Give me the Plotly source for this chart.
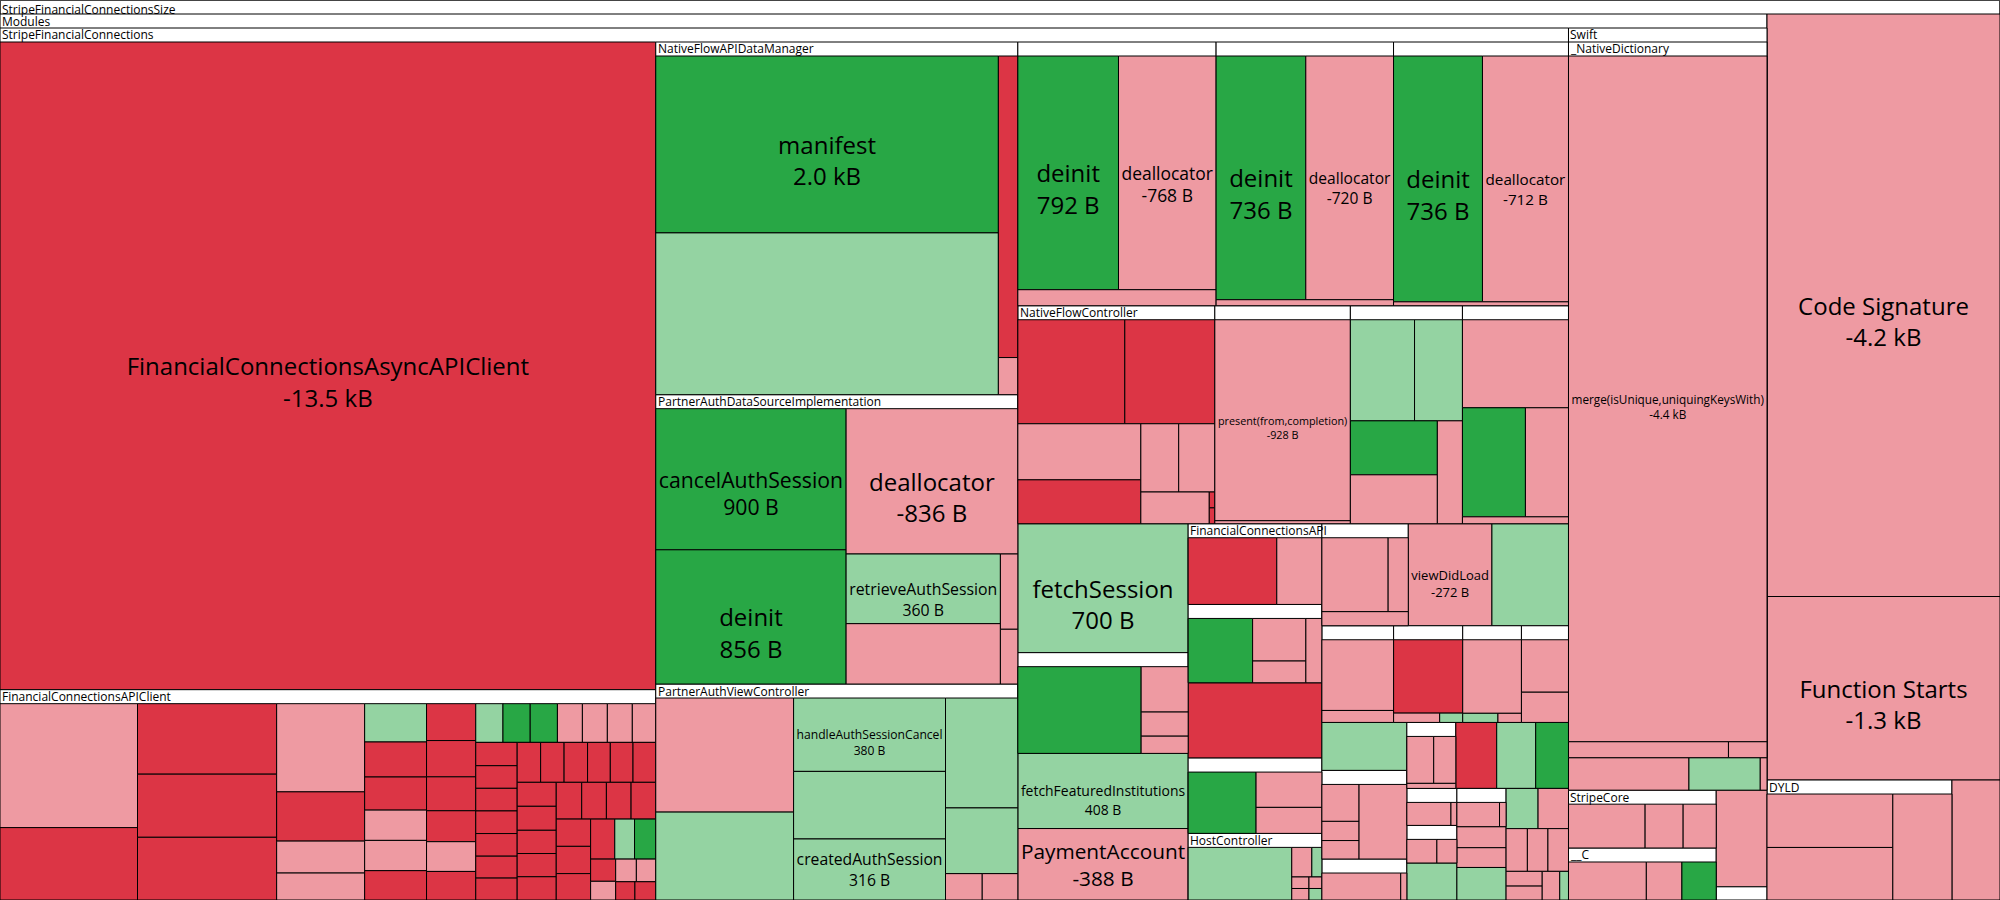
import plotly.graph_objects as go

# Size change of each symbol, in bytes (negative = smaller than before).
# A string in an item list names a sub-group (listed further down).
# Kind letters, one per numeric item: r removed, d decreased, a added, i increased.

root_items = ["modules", -4190, -1320, "dyld", -178]
root_kinds = "ddd"
root_names = {1: "Code Signature", 2: "Function Starts"}

dyld_items = [-235, -231, -219]
dyld_kinds = "ddd"

modules_items = ["sfc", "swift", "stripecore", "c", -154, "m_small"]
modules_kinds = "d"

m_small_items = [-21]
m_small_kinds = "d"

swift_items = ["native_dict", -125, 74, -7]
swift_kinds = "did"

native_dict_items = [-4437, -83, -20]
native_dict_kinds = "ddd"
native_dict_names = {0: "merge(isUnique,uniquingKeysWith)"}

stripecore_items = [-139, -69, -60]
stripecore_kinds = "ddd"

c_items = [-127, -58, 56]
c_kinds = "dda"

sfc_items = [-13540, "api_client", "nfadm", "padsi", "pavc", "g1", "g2", "g3",
             "nfc", "b1", "b2", "b3", 700, "gx", 408, -388, "fcapi", "gy", -321,
             "gw", "hc", "gv", -272, 249, "r2g1", "r2g2", "r2g3", "r2g4", 130,
             "q", "q2", "s", -86, 82, 69, "u1", "u2", 59, "u3", -33, -31, 51, 41,
             -39, -29, -28, -28, -17, -16, -16, 8]
sfc_kinds = "riidrdiiriaiddiidddddddi"
sfc_names = {0: "FinancialConnectionsAsyncAPIClient", 12: "fetchSession",
             14: "fetchFeaturedInstitutions", 15: "PaymentAccount", 22: "viewDidLoad"}

api_client_items = [-582, -340, -335, -300, -298, -265, -148, -96, -81,
                    81, -74, -70, -64, -64, -62,
                    -62, -61, -57, -52, -50, -48,
                    36, 36, 36, -33, -33, -33, -31,
                    -33, -32, -32, -32, -32, -31, -31,
                    -32, -32, -32, -31, -31, -31,
                    -32, -32, -31, -31, -31,
                    -32, -31, -31, -31,
                    -32, -32, -31,
                    -33, 27, 29, -19, -16, -16, -15, -12, -13]
api_client_kinds = ("drrrrdrdd" + "irrddr" + "rrrrdr" + "iaadddd"
                    + "rrrrrrr" + "rrrrrr" + "rrrrr" + "rrrr" + "rrr"
                    + "ria" + "rdddrr")

nfadm_items = [2012, 1840, -195, -24]
nfadm_kinds = "aird"
nfadm_names = {0: "manifest"}

padsi_items = [900, 856, -836, 360, -312, -44, -32]
padsi_kinds = "aadiddd"
padsi_names = {0: "cancelAuthSession", 1: "deinit", 2: "deallocator", 3: "retrieveAuthSession"}

pavc_items = [-536, 413, 380, 350, 316, 271, 162, -33, -32]
pavc_kinds = "diiiiiidd"
pavc_names = {2: "handleAuthSessionCancel", 4: "createdAuthSession"}

g1_items = [792, -768, -107]
g2_items = [736, -720, -36]
g3_items = [736, -712, -23]
deinit_kinds = "add"
deinit_names = {0: "deinit", 1: "deallocator"}

nfc_items = [-379, -319, -235, -184, -88, -84, -74, -3, -3]
nfc_kinds = "rrdrdddrr"

b1_items = [-928, -14]
b1_kinds = "dd"
b1_names = {0: "present(from,completion)"}

b2_items = [221, 165, 160, -145, -88]
b2_kinds = "iiadd"

b3_items = [-318, 234, -160, -25]
b3_kinds = "dadd"

gx_items = [396, -79, -42, -30]
gx_kinds = "addd"

fcapi_items = [-228, -116]
fcapi_kinds = "rd"

gy_items = [161, -88, -45, -40]
gy_kinds = "addd"

gw_items = [163, -91, -67]
gw_kinds = "add"

hc_items = [220, -24, 12, -8, -8, -6, 6]
hc_kinds = "ididddi"

gv_items = [-181, -55, -45]
gv_kinds = "ddd"

r2g1_items = [-189, -32]
r2g1_kinds = "dd"
r2g2_items = [-189, -16, 8]
r2g2_kinds = "rdi"
r2g3_items = [-161, 12, -8]
r2g3_kinds = "did"
r2g4_items = [-92, -53]
r2g4_kinds = "dd"

q_items = [-52, -27, -26, -135]
q_kinds = "dddd"
q2_items = [-103, -8]
q2_kinds = "dd"
s_items = [-51, -42, -10]
s_kinds = "ddd"
u1_items = [-52, -7]
u2_items = [-36, -24]
u3_items = [-52, -8]
pair_kinds = "dd"

group_labels = {
    "root": "StripeFinancialConnectionsSize",
    "modules": "Modules",
    "sfc": "StripeFinancialConnections",
    "swift": "Swift",
    "native_dict": "_NativeDictionary",
    "stripecore": "StripeCore",
    "c": "__C",
    "dyld": "DYLD",
    "api_client": "FinancialConnectionsAPIClient",
    "nfadm": "NativeFlowAPIDataManager",
    "padsi": "PartnerAuthDataSourceImplementation",
    "pavc": "PartnerAuthViewController",
    "nfc": "NativeFlowController",
    "fcapi": "FinancialConnectionsAPI",
    "hc": "HostController",
}

groups = {
    "root": (root_items, root_kinds, root_names),
    "dyld": (dyld_items, dyld_kinds, {}),
    "modules": (modules_items, modules_kinds, {}),
    "m_small": (m_small_items, m_small_kinds, {}),
    "swift": (swift_items, swift_kinds, {}),
    "native_dict": (native_dict_items, native_dict_kinds, native_dict_names),
    "stripecore": (stripecore_items, stripecore_kinds, {}),
    "c": (c_items, c_kinds, {}),
    "sfc": (sfc_items, sfc_kinds, sfc_names),
    "api_client": (api_client_items, api_client_kinds, {}),
    "nfadm": (nfadm_items, nfadm_kinds, nfadm_names),
    "padsi": (padsi_items, padsi_kinds, padsi_names),
    "pavc": (pavc_items, pavc_kinds, pavc_names),
    "g1": (g1_items, deinit_kinds, deinit_names),
    "g2": (g2_items, deinit_kinds, deinit_names),
    "g3": (g3_items, deinit_kinds, deinit_names),
    "nfc": (nfc_items, nfc_kinds, {}),
    "b1": (b1_items, b1_kinds, b1_names),
    "b2": (b2_items, b2_kinds, {}),
    "b3": (b3_items, b3_kinds, {}),
    "gx": (gx_items, gx_kinds, {}),
    "fcapi": (fcapi_items, fcapi_kinds, {}),
    "gy": (gy_items, gy_kinds, {}),
    "gw": (gw_items, gw_kinds, {}),
    "hc": (hc_items, hc_kinds, {}),
    "gv": (gv_items, gv_kinds, {}),
    "r2g1": (r2g1_items, r2g1_kinds, {}),
    "r2g2": (r2g2_items, r2g2_kinds, {}),
    "r2g3": (r2g3_items, r2g3_kinds, {}),
    "r2g4": (r2g4_items, r2g4_kinds, {}),
    "q": (q_items, q_kinds, {}),
    "q2": (q2_items, q2_kinds, {}),
    "s": (s_items, s_kinds, {}),
    "u1": (u1_items, pair_kinds, {}),
    "u2": (u2_items, pair_kinds, {}),
    "u3": (u3_items, pair_kinds, {}),
}

# short, flat tiles keep a two-line label so the text is not squeezed
two_line_labels = {"PaymentAccount", "createdAuthSession"}

KIND_COLORS = {"r": "#dc3545", "d": "#ee9aa2", "a": "#28a745", "i": "#94d3a2"}
W, H = 2000, 900
HEADER = 14
RATIO = 1.618034


def fmt_bytes(b):
    if abs(b) >= 1000:
        return f"{b / 1000:.1f} kB"
    return f"{b} B"


ids, parents, values, colors, texts = [], [], [], [], []
children = {}


def add_group(key, parent):
    ids.append(key)
    parents.append(parent)
    values.append(0)
    colors.append("#ffffff")
    texts.append("")
    children[key] = []
    if parent:
        children[parent].append(key)
    items, kinds, names = groups[key]
    leaf_n = 0
    for i, item in enumerate(items):
        if isinstance(item, str):
            add_group(item, key)
            continue
        name = names.get(i, "")
        nid = f"{key}/{i}"
        ids.append(nid)
        parents.append(key)
        values.append(abs(item))
        colors.append(KIND_COLORS[kinds[leaf_n]])
        if not name:
            texts.append("")
        elif name in two_line_labels:
            texts.append(f"{name}<br>{fmt_bytes(item)}")
        else:
            # empty first line keeps the name line on the tile centre
            texts.append(f"\u00a0<br>{name}<br>{fmt_bytes(item)}")
        children[key].append(nid)
        children[nid] = []
        leaf_n += 1
    assert leaf_n == len(kinds), key


add_group("root", "")

# --- header label placement: the same squarify pass plotly (d3) runs ---------
own = dict(zip(ids, values))
total = {}


def subtotal(n):
    total[n] = own[n] + sum(subtotal(c) for c in children[n])
    return total[n]


subtotal("root")
rects = {"root": (0.0, 0.0, float(W), float(H))}


def squarify(kids, x0, y0, x1, y1):
    if x1 - x0 <= 0 or y1 - y0 <= 0:
        for c in kids:
            rects[c] = (x0, y0, x1, y1)
        return
    vals = [total[k] for k in kids]
    value = sum(vals)
    n = len(kids)
    i0 = i1 = 0
    while i0 < n:
        dx, dy = x1 - x0, y1 - y0
        sum_v = vals[i1]
        i1 += 1
        while not sum_v and i1 < n:
            sum_v = vals[i1]
            i1 += 1
        min_v = max_v = sum_v
        alpha = max(dy / dx, dx / dy) / (value * RATIO)
        beta = sum_v * sum_v * alpha
        min_ratio = max(max_v / beta, beta / min_v)
        while i1 < n:
            nv = vals[i1]
            sum_v += nv
            min_v = min(min_v, nv)
            max_v = max(max_v, nv)
            beta = sum_v * sum_v * alpha
            new_ratio = max(max_v / beta, beta / min_v)
            if new_ratio > min_ratio:
                sum_v -= nv
                break
            min_ratio = new_ratio
            i1 += 1
        row = kids[i0:i1]
        if dx < dy:
            ny = y0 + dy * sum_v / value if value else y1
            k = (x1 - x0) / sum_v
            xx = x0
            for c in row:
                rects[c] = (xx, y0, xx + total[c] * k, ny)
                xx += total[c] * k
            y0 = ny
        else:
            nx = x0 + dx * sum_v / value if value else x1
            k = (y1 - y0) / sum_v
            yy = y0
            for c in row:
                rects[c] = (x0, yy, nx, yy + total[c] * k)
                yy += total[c] * k
            x0 = nx
        value -= sum_v
        i0 = i1
        if (x1 - x0 <= 1e-9 or y1 - y0 <= 1e-9) and i0 < n:
            for c in kids[i0:]:
                rects[c] = (x0, y0, x1, y1)
            return


def place(n):
    if not children[n]:
        return
    x0, y0, x1, y1 = rects[n]
    squarify(children[n], x0, min(y0 + HEADER, y1), x1, y1)
    for c in children[n]:
        place(c)


place("root")

annotations = []
for key, label in group_labels.items():
    x0, y0, x1, y1 = rects[key]
    annotations.append(dict(
        text=label, x=(x0 + 1) / W, y=1 - max(0.0, y0 - 2.5) / H,
        xref="paper", yref="paper", xanchor="left", yanchor="top",
        borderpad=0, showarrow=False,
        font=dict(family="Open Sans", size=12, color="black"),
    ))

fig = go.Figure(go.Treemap(
    ids=ids,
    labels=[""] * len(ids),
    parents=parents,
    values=values,
    branchvalues="remainder",
    sort=False,
    text=texts,
    textinfo="text",
    textposition="middle center",
    textfont=dict(family="Open Sans", size=24, color="black"),
    marker=dict(colors=colors, line=dict(width=1, color="black"),
                pad=dict(t=HEADER, l=0, r=0, b=0)),
    tiling=dict(packing="squarify", squarifyratio=RATIO, pad=0),
    pathbar=dict(visible=False),
    hoverinfo="skip",
))
fig.update_layout(width=W, height=H, margin=dict(l=0, r=0, t=0, b=0),
                  paper_bgcolor="white", annotations=annotations)
fig.write_html("out.html", config={"displayModeBar": False},
               post_script="document.body.style.margin='0';"
                           "document.body.style.overflow='hidden';")
